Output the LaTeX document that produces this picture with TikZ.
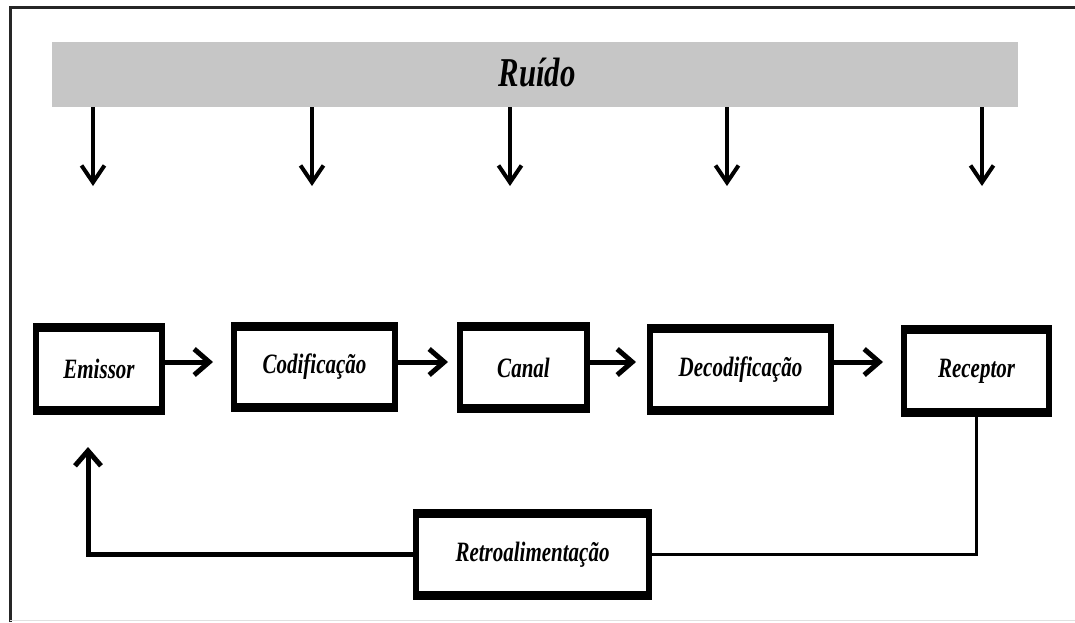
\documentclass[tikz,border=0pt]{standalone}
\usepackage{fontspec}
\setmainfont{Liberation Serif}
\newfontfamily\condfont[FakeStretch=0.75]{Liberation Serif}
\usetikzlibrary{arrows.meta,calc}
\definecolor{noisegray}{RGB}{198,198,198}
\tikzset{
  stagebox/.style={draw, line width=6pt, fill=white, inner sep=0pt, outer sep=0pt,
    font=\condfont\bfseries\itshape\fontsize{28}{30}\selectfont},
  flow/.style={line width=5pt, -{Straight Barb[length=15pt,width=26pt]}},
  noisearrow/.style={line width=4pt, -{Straight Barb[length=17pt,width=23pt]}},
  thinline/.style={line width=2.5pt},
  barline/.style={line width=9pt}
}
\begin{document}
\begin{tikzpicture}[x=1pt,y=-1pt]
\useasboundingbox (0,0) rectangle (1075,622);
% frame
\draw[line width=3pt, black!85] (10,622) -- (10,7) -- (1075,7);
\draw[line width=1pt, black!12] (10,620) -- (1075,620);
% noise bar
\node[fill=noisegray, minimum width=966pt, minimum height=65pt, inner sep=0pt, outer sep=0pt] (ruido) at (535,74.5) {};
\node[font=\condfont\bfseries\itshape\fontsize{41}{44}\selectfont] (ruidotxt) at (537,72) {Ruído};
% noise arrow tips
\coordinate (n1) at (93,186);
\coordinate (n2) at (312,186);
\coordinate (n3) at (510,186);
\coordinate (n4) at (727,186);
\coordinate (n5) at (982,186);
\foreach \n in {n1,n2,n3,n4,n5}
  \draw[noisearrow] (ruido.south -| \n) -- (\n);
% stages
\node[stagebox, minimum width=126pt, minimum height=86pt] (emissor) at (99,369) {Emissor};
\node[stagebox, minimum width=161pt, minimum height=84pt] (codif) at (314.5,367) {Codificação};
\node[stagebox, minimum width=127pt, minimum height=85pt] (canal) at (523.5,367.5) {Canal};
\node[stagebox, minimum width=181pt, minimum height=85pt] (decod) at (740.5,369.5) {Decodificação};
\node[stagebox, minimum width=145pt, minimum height=86pt] (receptor) at (976.5,371) {Receptor};
\node[stagebox, minimum width=233pt, minimum height=85pt] (retro) at (532.5,554.5) {Retroalimentação};
% thicker top and bottom edges
\foreach \n in {emissor,codif,canal,decod,receptor,retro}{
  \draw[barline] ([yshift=-1.5pt]\n.north west) -- ([yshift=-1.5pt]\n.north east);
  \draw[barline] ([yshift=1.5pt]\n.south west) -- ([yshift=1.5pt]\n.south east);
}
% forward arrows
\coordinate (row) at (0,362);
\draw[flow, shorten >=21pt] (emissor.east |- row) -- (codif.west |- row);
\draw[flow, shorten >=12pt] (codif.east |- row) -- (canal.west |- row);
\draw[flow, shorten >=14pt] (canal.east |- row) -- (decod.west |- row);
\draw[flow, shorten >=21pt] (decod.east |- row) -- (receptor.west |- row);
% feedback
\coordinate (fbtip) at (88,447);
\draw[thinline] (receptor.south) |- (retro.east);
\draw[flow, line join=miter] (retro.west) -| (fbtip);
\end{tikzpicture}
\end{document}
